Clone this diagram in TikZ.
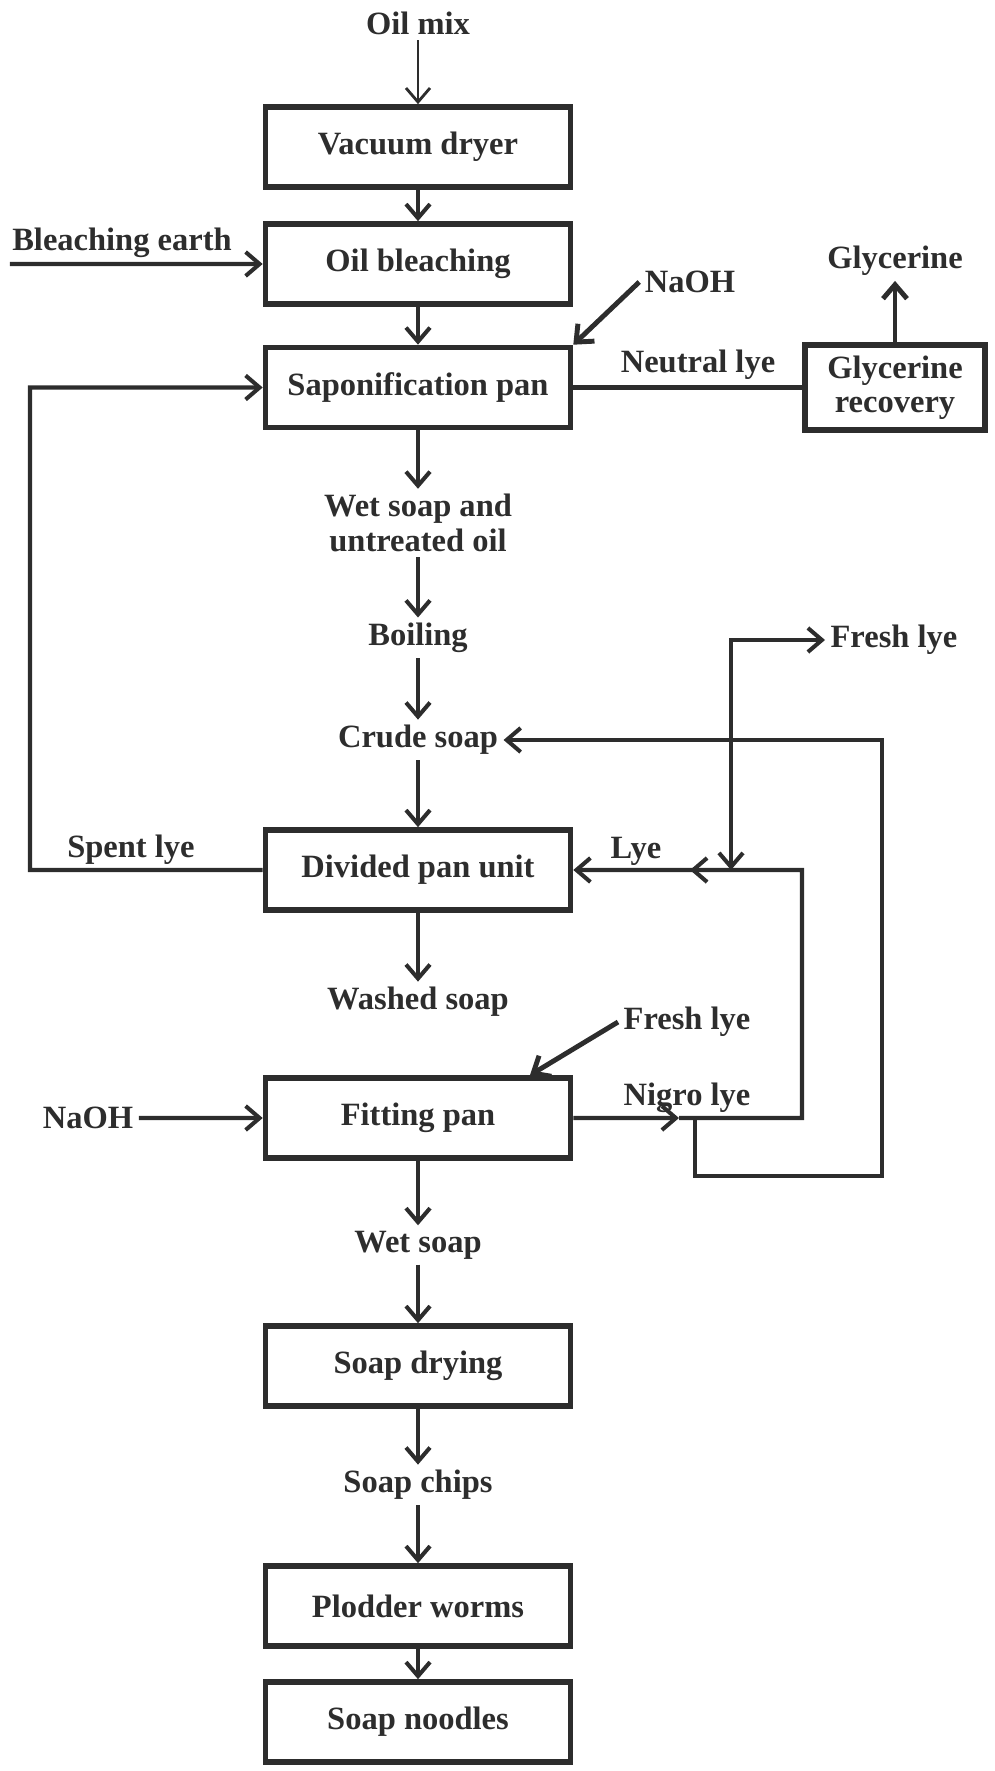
\documentclass[tikz,border=0pt]{standalone}
\usepackage{fontspec}
\setmainfont{Liberation Serif}
\usetikzlibrary{positioning,arrows.meta}
\definecolor{ink}{RGB}{45,45,45}

\begin{document}
\begin{tikzpicture}[
    on grid,
    font=\fontsize{18.5}{19.5}\selectfont\bfseries,
    text=ink,
    box/.style={
        rectangle, draw=ink, line width=3.2pt,
        minimum width=6.1cm, minimum height=1.6cm,
        align=center
    },
    stream/.style={align=center, inner sep=3pt},
    arrow/.style={-{Straight Barb[length=2.8mm,width=4.8mm]}, line width=2.3pt, ink},
    twoway/.style={{Straight Barb[length=2.8mm,width=4.8mm]}-{Straight Barb[length=2.8mm,width=4.8mm]}, line width=2.3pt, ink},
    line/.style={line width=2.3pt, ink}
]

\useasboundingbox (0,0) rectangle (19.88,-35.42);

% main column
\node[stream] (oilmix) at (8.36,-0.46) {Oil mix};
\node[box, below=2.48cm of oilmix] (vacuum) {Vacuum dryer};
\node[box, below=2.34cm of vacuum] (bleach) {Oil bleaching};
\node[box, below=2.47cm of bleach] (sapon) {Saponification pan};
\node[stream, below=2.71cm of sapon] (wetoil) {Wet soap and\\untreated oil};
\node[stream, below=2.30cm of wetoil] (boiling) {Boiling};
\node[stream, below=2.04cm of boiling] (crude) {Crude soap};
\node[box, below=2.6cm of crude] (divided) {Divided pan unit};
\node[stream, below=2.64cm of divided] (washed) {Washed soap};
\node[box, below=2.32cm of washed] (fitting) {Fitting pan};
\node[stream, below=2.54cm of fitting] (wetsoap) {Wet soap};
\node[box, below=2.42cm of wetsoap] (drying) {Soap drying};
\node[stream, below=2.38cm of drying] (chips) {Soap chips};
\node[box, below=2.42cm of chips] (plodder) {Plodder worms};
\node[box, below=2.32cm of plodder] (noodles) {Soap noodles};

% side streams
\node[stream] (earth) at (2.44,-4.86) {Bleaching earth};
\coordinate (earthin) at (0.2,-5.28);
\node[stream] (naohtop) at (13.8,-5.64) {NaOH};
\node[box, minimum width=3.6cm, minimum height=1.7cm, right=9.54cm of sapon] (glyrec) {Glycerine\\recovery};
\node[stream, above=2.54cm of glyrec] (glycerine) {Glycerine};
\node[stream] (neutral) at (13.96,-7.3) {Neutral lye};
\node[stream] (spent) at (2.62,-17.0) {Spent lye};
\node[stream] (lye) at (12.72,-17.02) {Lye};
\node[stream, anchor=west] (freshtop) at (16.5,-12.8) {Fresh lye};
\node[stream] (freshlow) at (13.74,-20.44) {Fresh lye};
\node[stream] (nigro) at (13.74,-21.96) {Nigro lye};
\node[stream] (naohlow) at (1.76,-22.36) {NaOH};

\coordinate (spentturn) at (0.6,-17.4);
\coordinate (nigromid) at (13.58,-22.36);
\coordinate (nigrojoin) at (13.9,-22.36);
\coordinate (lyeright) at (16.04,-17.4);
\coordinate (lyemid) at (13.8,-17.4);
\coordinate (outercorner) at (17.64,-23.52);
\coordinate (freshdown) at (14.62,-17.4);

% main flow
\draw[arrow, line width=1.6pt] (oilmix) -- (vacuum);
\draw[arrow] (vacuum) -- (bleach);
\draw[arrow] (bleach) -- (sapon);
\draw[arrow] (sapon) -- (wetoil);
\draw[arrow] (wetoil) -- (boiling);
\draw[arrow] (boiling) -- (crude);
\draw[arrow] (crude) -- (divided);
\draw[arrow] (divided) -- (washed);
\draw[arrow] (fitting) -- (wetsoap);
\draw[arrow] (wetsoap) -- (drying);
\draw[arrow] (drying) -- (chips);
\draw[arrow] (chips) -- (plodder);
\draw[arrow] (plodder) -- (noodles);

% inputs and recycles
\draw[arrow] (earthin) -- (bleach);
\draw[arrow, line width=2.8pt] (naohtop.west) -- (sapon.north east);
\draw[line] (sapon) -- (glyrec);
\draw[arrow, line width=2.8pt] (glyrec) -- (glycerine);
\draw[arrow] (divided.west) -- (spentturn) |- (sapon.west);
\draw[arrow, line width=2.8pt] (freshlow.west) -- ([xshift=2.24cm]fitting.north);
\draw[arrow] (naohlow) -- (fitting);
\draw[arrow] (fitting.east) -- (nigromid);
\draw[arrow] (nigromid) -| (lyeright) -- (divided.east);
\draw[arrow] (lyeright) -- (lyemid);
\draw[arrow] (nigrojoin) |- (outercorner) |- (crude.east);
\draw[twoway] (freshdown) |- (freshtop.west);

\end{tikzpicture}
\end{document}
